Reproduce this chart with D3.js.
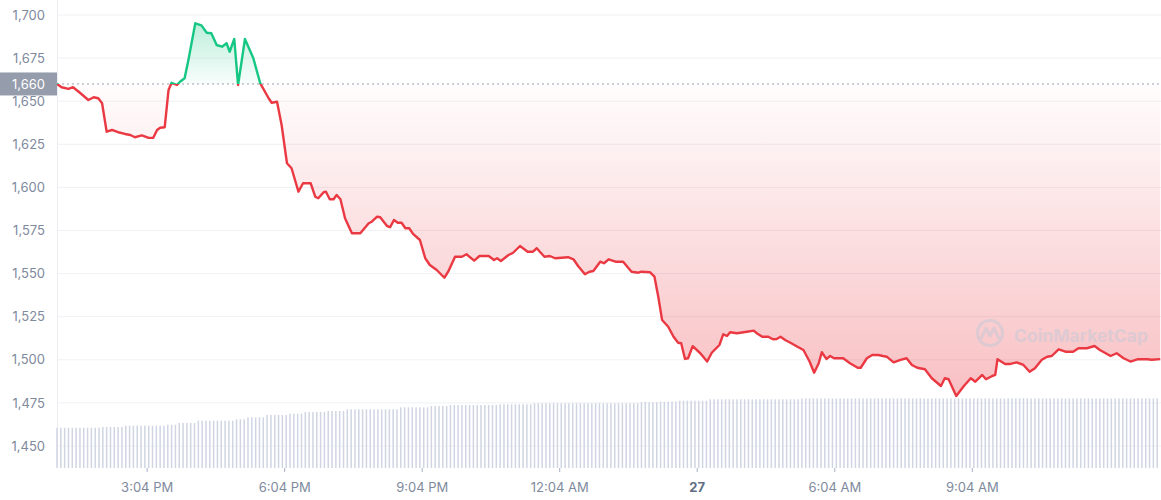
<!DOCTYPE html>
<html><head><meta charset="utf-8">
<script src="https://cdn.jsdelivr.net/npm/d3@7"></script>
<style>body{margin:0;background:#fff;} svg{display:block;font-family:Inter,"Noto Sans",sans-serif;}</style>
</head><body><svg id="c" width="1161" height="500"></svg>
<script>
// ---- data ----
const startTime = new Date(2023, 0, 26, 13, 6);
const spanMinutes = 1445;
const baselinePrice = 1660;
const minutes = [0,6,15,21,30,41,48,54,59,65,72,80,89,96,102,111,120,126,131,135,141,146,150,157,161,167,172,181,189,196,202,209,216,222,226,232,237,246,257,266,277,281,288,294,301,307,316,322,332,338,342,349,352,357,362,366,371,377,386,397,408,412,419,423,432,436,441,446,451,456,461,466,475,482,488,497,507,512,521,530,536,546,553,565,572,576,581,591,597,606,616,623,628,632,638,645,652,669,676,682,691,697,702,711,716,722,731,741,752,761,765,776,782,787,792,800,807,813,817,822,826,832,842,851,857,867,872,877,881,890,903,912,916,923,931,937,942,947,953,960,968,977,985,991,997,1001,1007,1012,1017,1029,1038,1048,1052,1060,1067,1075,1081,1086,1095,1104,1112,1119,1126,1136,1145,1157,1162,1167,1177,1187,1196,1202,1211,1216,1224,1228,1231,1241,1248,1256,1265,1273,1280,1289,1296,1302,1311,1320,1330,1337,1348,1358,1365,1379,1387,1396,1405,1414,1427,1433,1444];
const prices = [1660.0,1658.1,1657.1,1658.1,1654.9,1650.7,1652.3,1651.7,1648.8,1632.3,1633.3,1632.0,1631.0,1630.4,1629.1,1630.2,1628.7,1628.8,1633.3,1634.6,1634.9,1656.5,1660.7,1659.4,1661.3,1663.3,1673.9,1695.2,1694.0,1689.7,1689.4,1682.6,1681.6,1683.6,1678.7,1686.1,1659.4,1686.1,1674.9,1660.4,1651.7,1649.1,1649.7,1636.2,1614.0,1611.1,1597.5,1602.4,1602.4,1594.6,1593.7,1597.2,1597.5,1593.1,1593.1,1595.6,1593.1,1582.1,1573.4,1573.4,1579.2,1580.1,1583.0,1582.7,1577.6,1576.9,1581.1,1579.5,1579.5,1576.3,1576.3,1573.0,1569.5,1558.9,1555.0,1552.1,1547.6,1551.1,1559.8,1559.8,1561.2,1557.5,1560.2,1560.2,1557.9,1558.9,1557.3,1560.8,1562.1,1566.0,1562.7,1562.7,1564.7,1562.7,1559.8,1560.2,1558.9,1559.5,1558.3,1554.4,1549.6,1551.1,1551.5,1556.9,1556.0,1558.3,1556.9,1556.9,1551.1,1550.5,1551.1,1550.8,1548.2,1536.6,1523.1,1519.2,1513.4,1509.9,1509.6,1500.5,1500.9,1507.9,1503.8,1499.0,1504.1,1508.6,1514.8,1513.8,1516.0,1515.4,1516.3,1516.9,1515.4,1513.4,1513.4,1511.9,1512.1,1513.4,1511.5,1509.9,1507.9,1505.7,1499.0,1492.5,1498.0,1504.4,1500.5,1502.2,1500.9,1500.9,1498.0,1495.4,1495.4,1500.9,1502.8,1502.8,1502.2,1501.8,1498.5,1500.0,1500.9,1497.0,1495.4,1494.5,1489.3,1484.8,1489.3,1488.7,1479.0,1484.8,1489.3,1487.3,1491.2,1488.7,1490.6,1491.2,1500.3,1497.6,1497.6,1498.5,1497.0,1493.1,1495.1,1500.0,1501.8,1502.2,1506.1,1504.7,1504.7,1506.7,1506.7,1508.0,1505.7,1502.2,1503.8,1500.9,1499.0,1500.3,1500.3,1500.0,1500.4];
// volume bars, one every 5 minutes (relative units)
const volumes = [
4.03,4.03,4.03,4.03,4.03,4.03,4.03,4.03,4.03,4.03,4.03,4.03,
4.10,4.10,4.10,4.10,4.10,4.10,
4.23,4.23,4.23,4.23,4.23,4.23,4.23,4.23,4.23,4.23,4.23,
4.33,4.33,4.33,
4.50,4.50,4.50,4.50,4.50,
4.73,4.73,4.73,4.73,4.73,4.73,4.73,4.73,4.73,4.73,
4.87,4.87,4.87,
5.07,5.07,5.07,5.07,5.07,
5.30,5.30,5.30,5.30,5.30,5.30,
5.43,5.43,5.43,5.43,
5.60,5.60,5.60,5.60,5.60,5.60,
5.70,5.70,5.70,5.70,5.70,
5.87,5.87,5.87,5.87,5.87,5.87,5.87,5.87,5.87,5.87,5.87,5.87,5.87,5.87,
6.07,6.07,6.07,6.07,6.07,6.07,6.07,6.07,
6.20,6.20,6.20,6.20,6.20,
6.30,6.30,6.30,6.30,6.30,6.30,6.30,6.30,6.30,6.30,6.30,6.30,6.30,
6.37,6.37,6.37,6.37,6.37,6.37,6.37,6.37,6.37,
6.47,6.47,6.47,6.47,6.47,6.47,6.47,6.47,6.47,6.47,6.47,6.47,6.47,6.47,
6.47,6.47,6.47,6.47,6.47,6.47,6.47,6.47,6.47,6.47,6.47,6.47,6.47,6.47,
6.57,6.62,6.57,6.57,6.57,
6.63,6.63,6.63,6.63,6.63,
6.73,6.73,6.73,6.73,6.73,6.73,6.73,6.73,
6.87,6.87,6.87,6.87,6.87,6.87,6.87,6.87,6.87,6.87,6.87,6.87,
6.87,6.87,6.87,6.87,6.87,6.87,6.87,6.87,6.87,6.87,6.87,6.87,
6.95,6.95,6.95,6.95,6.95,6.95,6.95,6.95,6.95,6.95,6.95,6.95,6.95,6.95,6.95,6.95,
6.95,6.95,6.95,6.95,6.95,6.95,6.95,6.95,6.95,6.95,6.95,6.95,6.95,6.95,6.95,6.95,
6.95,6.95,6.95,6.95,6.95,6.95,6.95,6.95,6.95,6.95,6.95,6.95,6.95,6.95,6.95,6.95,
6.95,6.95,6.95,6.95,6.95,6.95,6.97,6.97,6.97,6.97,6.97,6.97,6.95,6.95,6.95,6.95,
6.95,6.95,6.95,6.95,6.95,6.95,6.95,6.95,6.95,6.95,6.95,6.95,6.95,6.95,6.95,6.95,
6.95,6.95,6.95,6.95,6.95,6.95,6.95,6.95,6.95,6.95,6.95,6.95,6.95,6.95
];
const volumeStepMinutes = 5;
const yTicks = [1450,1475,1500,1525,1550,1575,1600,1625,1650,1675,1700];
const xTickMinutes = [118,298,478,658,838,1018,1198];
const xTickLabels = ["3:04 PM","6:04 PM","9:04 PM","12:04 AM","27","6:04 AM","9:04 AM"];

// ---- drawing ----
(function(){
const W = 1161, H = 500;
const pLeft = 57, pRight = 1161, pTop = 15, pBottom = 446, volBase = 468;
const svg = d3.select("#c");
const t = m => new Date(startTime.getTime() + m * 60000);
const x = d3.scaleTime().domain([t(0), t(spanMinutes)]).range([pLeft, pRight]);
const y = d3.scaleLinear().domain([1450, 1700]).range([pBottom, pTop]);
const yv = d3.scaleLinear().domain([0, 7]).range([volBase, volBase - 70]);
const n = Math.min(minutes.length, prices.length);
const data = d3.range(n).map(i => ({time: t(minutes[i]), price: prices[i]}));
const yBase = y(baselinePrice);
const minP = d3.min(prices), maxP = d3.max(prices);

const defs = svg.append("defs");
const gG = defs.append("linearGradient").attr("id","gGreen").attr("gradientUnits","userSpaceOnUse")
  .attr("x1",0).attr("x2",0).attr("y1",y(maxP)).attr("y2",yBase);
gG.append("stop").attr("offset","0").attr("stop-color","#16c784").attr("stop-opacity",0.28);
gG.append("stop").attr("offset","1").attr("stop-color","#16c784").attr("stop-opacity",0.03);
const gR = defs.append("linearGradient").attr("id","gRed").attr("gradientUnits","userSpaceOnUse")
  .attr("x1",0).attr("x2",0).attr("y1",yBase).attr("y2",y(minP));
gR.append("stop").attr("offset","0").attr("stop-color","#ea3943").attr("stop-opacity",0.01);
gR.append("stop").attr("offset","1").attr("stop-color","#ea3943").attr("stop-opacity",0.32);
defs.append("clipPath").attr("id","above").append("rect").attr("x",0).attr("y",0).attr("width",W).attr("height",yBase);
defs.append("clipPath").attr("id","below").append("rect").attr("x",0).attr("y",yBase).attr("width",W).attr("height",H-yBase);

// grid
svg.append("g").selectAll("line").data(yTicks).join("line")
  .attr("x1",pLeft).attr("x2",pRight).attr("y1",d=>y(d)).attr("y2",d=>y(d))
  .attr("stroke","#eff1f4").attr("stroke-width",1);
svg.append("line").attr("x1",pLeft+0.5).attr("x2",pLeft+0.5).attr("y1",0).attr("y2",volBase)
  .attr("stroke","#eceef2");

// volume bars
svg.append("g").selectAll("rect").data(volumes).join("rect")
  .attr("x",(d,i)=>x(t(i*volumeStepMinutes))-0.75)
  .attr("width",1.5)
  .attr("y",d=>yv(d)).attr("height",d=>volBase-yv(d))
  .attr("fill","#cfd5e3");

// areas
const area = d3.area().x(d=>x(d.time)).y0(yBase).y1(d=>y(d.price));
svg.append("path").datum(data).attr("d",area).attr("fill","url(#gGreen)").attr("clip-path","url(#above)");
svg.append("path").datum(data).attr("d",area).attr("fill","url(#gRed)").attr("clip-path","url(#below)");

// watermark
const wm = svg.append("g").attr("opacity",0.5);
wm.append("circle").attr("cx",990).attr("cy",333).attr("r",12.5).attr("fill","none").attr("stroke","#c3c9d6").attr("stroke-width",3);
wm.append("path").attr("d","M981,339 L986,328 L990,336 L994,328 L999,339").attr("fill","none").attr("stroke","#c3c9d6").attr("stroke-width",3).attr("stroke-linejoin","round");
wm.append("text").attr("x",1014).attr("y",342).attr("font-size",17.5).attr("font-weight",700)
  .attr("fill","#c3c9d6").text("CoinMarketCap");

// baseline dotted
svg.append("line").attr("x1",pLeft).attr("x2",pRight).attr("y1",yBase).attr("y2",yBase)
  .attr("stroke","#9aa1ad").attr("stroke-width",1).attr("stroke-dasharray","2,3");

// line
const line = d3.line().x(d=>x(d.time)).y(d=>y(d.price));
svg.append("path").datum(data).attr("d",line).attr("fill","none").attr("stroke","#16c784")
  .attr("stroke-width",2.4).attr("stroke-linejoin","round").attr("clip-path","url(#above)");
svg.append("path").datum(data).attr("d",line).attr("fill","none").attr("stroke","#ea3943")
  .attr("stroke-width",2.4).attr("stroke-linejoin","round").attr("clip-path","url(#below)");

// y labels
svg.append("g").selectAll("text").data(yTicks).join("text")
  .attr("x",45).attr("y",d=>y(d)).attr("dy","0.36em").attr("text-anchor","end")
  .attr("font-size",13).attr("fill","#808a9d").text(d=>d3.format(",")(d));

// baseline label box
svg.append("rect").attr("x",0).attr("y",yBase-11.5).attr("width",pLeft).attr("height",23).attr("fill","#959cab");
svg.append("text").attr("x",45).attr("y",yBase).attr("dy","0.36em").attr("text-anchor","end")
  .attr("font-size",13).attr("fill","#ffffff").text(d3.format(",")(baselinePrice));

// x ticks
const xt = svg.append("g").selectAll("g").data(xTickMinutes).join("g")
  .attr("transform",d=>`translate(${x(t(d))},0)`);
xt.append("line").attr("y1",volBase).attr("y2",volBase+4).attr("stroke","#a6b0c3");
xt.append("text").attr("y",492).attr("text-anchor","middle").attr("font-size",13)
  .attr("font-weight",(d,i)=>xTickLabels[i]==="27"?700:400)
  .attr("fill",(d,i)=>xTickLabels[i]==="27"?"#616e85":"#808a9d")
  .text((d,i)=>xTickLabels[i]);
})();
</script></body></html>
